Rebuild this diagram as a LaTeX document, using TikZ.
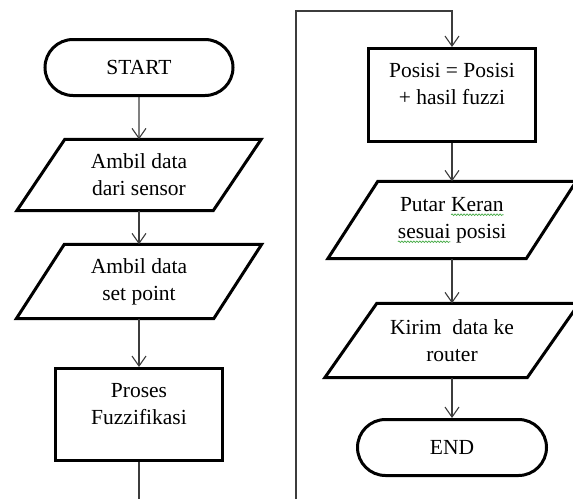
\documentclass[tikz,border=0pt]{standalone}
\usepackage{fontspec}
\setmainfont{Liberation Serif}
\usetikzlibrary{arrows.meta,shapes.misc,decorations.pathmorphing}

\definecolor{spellgreen}{RGB}{70,170,70}
\definecolor{flowgray}{RGB}{60,60,60}

% word with a wavy green underline (spell-check mark)
\newcommand\spellwave[1]{\tikz[baseline=(sw.base)]{%
  \node[rectangle, draw=none, inner sep=0pt, outer sep=0pt,
        minimum width=0pt, minimum height=0pt] (sw) {#1};
  \draw[spellgreen, line width=0.7pt, decorate,
        decoration={snake, segment length=3pt, amplitude=0.8pt}]
    ([yshift=-3.5pt]sw.base west) -- ([yshift=-3.5pt]sw.base east);}}

% outline of an input/output parallelogram drawn around a named node
\newcommand\ioshape[2]{%
  \draw[ioline] ([xshift=#2]#1.north west) -- (#1.north east)
    -- ([xshift=-#2]#1.south east) -- (#1.south west) -- cycle;}

\tikzset{
  txt/.style={font=\fontsize{21.5}{27}\selectfont, align=center, inner sep=0pt},
  terminal/.style={txt, rounded rectangle, draw, line width=3pt, minimum height=56pt},
  procbox/.style={txt, rectangle, draw, line width=3pt, minimum width=167pt},
  iobox/.style={txt, rectangle, draw=none},
  ioline/.style={line width=3pt, line join=miter},
  flow/.style={draw=flowgray, line width=1.1pt, -{Straight Barb[length=10pt,width=14pt,line width=1.1pt]}},
  plain/.style={draw=flowgray, line width=1.1pt},
}

\begin{document}
\begin{tikzpicture}[x=1pt, y=-1pt]
\path[use as bounding box, fill=white] (0,0) rectangle (573,499);
\clip (0,0) rectangle (573,499);

% left column
\node[terminal, minimum width=188pt] (start) at (139,67.5) {START};
\node[iobox, minimum width=244pt, minimum height=71pt] (in1) at (139,175) {Ambil data\\dari sensor};
\node[iobox, minimum width=245pt, minimum height=74pt] (in2) at (139,281.5) {Ambil data\\set point};
\node[procbox, minimum height=92pt] (fuzz) at (139,414.5) {Proses\\Fuzzifikasi\\[-5pt]\mbox{}};
\coordinate (leftcut) at (139,499);

% right column
\coordinate (rightcut) at (296,499);
\coordinate (loopcorner) at (296,11);
\coordinate (loopturn) at (452,11);
\node[procbox, minimum height=93pt] (pos) at (452,95) {Posisi = Posisi\\+ hasil fuzzi\\[-5pt]\mbox{}};
\node[iobox, minimum width=248pt, minimum height=77pt] (valve) at (452,220) {Putar \spellwave{Keran}\\\spellwave{sesuai} posisi};
\node[iobox, minimum width=254pt, minimum height=74pt] (send) at (452,340.5) {Kirim~~data ke\\router};
\node[terminal, minimum width=189pt] (end) at (452,447.5) {END};

\ioshape{in1}{48pt}
\ioshape{in2}{48pt}
\ioshape{valve}{50pt}
\ioshape{send}{52pt}

% connectors
\draw[flow] (start) -- (in1);
\draw[flow] (in1) -- (in2);
\draw[flow] (in2) -- (fuzz);
\draw[plain] (fuzz) -- (leftcut);
\draw[flow] (rightcut) -- (loopcorner) -- (loopturn) -- (pos);
\draw[flow] (pos) -- (valve);
\draw[flow] (valve) -- (send);
\draw[flow] (send) -- (end);
\end{tikzpicture}
\end{document}
